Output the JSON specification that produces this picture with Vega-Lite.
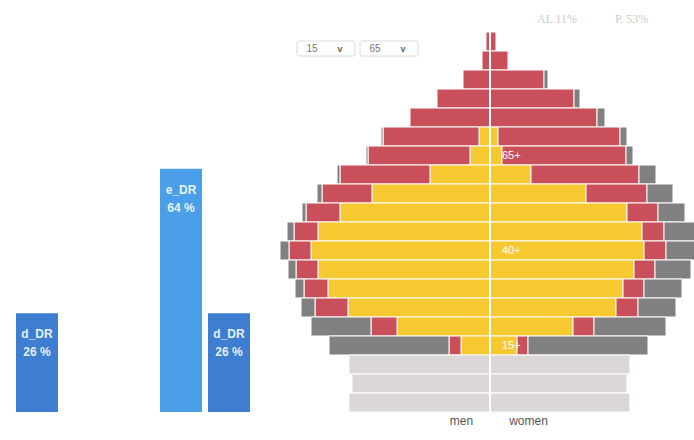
{
  "$schema": "https://vega.github.io/schema/vega-lite/v6.json",
  "padding": {"left": 0, "top": 12, "right": 0, "bottom": 0},
  "spacing": 14,
  "resolve": {"scale": {"color": "independent"}},
  "config": {"view": {"stroke": null}, "font": "Liberation Sans"},
  "datasets": {
    "ratios": [
      {"slot": 1, "name": "d_DR", "value": 26, "label": "26 %"},
      {"slot": 4, "name": "e_DR", "value": 64, "label": "64 %"},
      {"slot": 5, "name": "d_DR", "value": 26, "label": "26 %"}
    ],
    "pyramid": [
      {"age": "95+", "sex": "men", "group": "pensioners", "value": -4},
      {"age": "95+", "sex": "women", "group": "pensioners", "value": 6},
      {"age": "90-94", "sex": "men", "group": "pensioners", "value": -8},
      {"age": "90-94", "sex": "women", "group": "pensioners", "value": 18},
      {"age": "85-89", "sex": "men", "group": "pensioners", "value": -27},
      {"age": "85-89", "sex": "women", "group": "pensioners", "value": 54},
      {"age": "85-89", "sex": "women", "group": "unemployed", "value": 4},
      {"age": "80-84", "sex": "men", "group": "pensioners", "value": -53},
      {"age": "80-84", "sex": "women", "group": "pensioners", "value": 84},
      {"age": "80-84", "sex": "women", "group": "unemployed", "value": 6},
      {"age": "75-79", "sex": "men", "group": "pensioners", "value": -80},
      {"age": "75-79", "sex": "women", "group": "pensioners", "value": 107},
      {"age": "75-79", "sex": "women", "group": "unemployed", "value": 8},
      {"age": "70-74", "sex": "men", "group": "employed", "value": -11},
      {"age": "70-74", "sex": "men", "group": "pensioners", "value": -96},
      {"age": "70-74", "sex": "men", "group": "unemployed", "value": -2},
      {"age": "70-74", "sex": "women", "group": "employed", "value": 8},
      {"age": "70-74", "sex": "women", "group": "pensioners", "value": 122},
      {"age": "70-74", "sex": "women", "group": "unemployed", "value": 7},
      {"age": "65-69", "sex": "men", "group": "employed", "value": -20},
      {"age": "65-69", "sex": "men", "group": "pensioners", "value": -102},
      {"age": "65-69", "sex": "men", "group": "unemployed", "value": -2},
      {"age": "65-69", "sex": "women", "group": "employed", "value": 12},
      {"age": "65-69", "sex": "women", "group": "pensioners", "value": 124},
      {"age": "65-69", "sex": "women", "group": "unemployed", "value": 7},
      {"age": "60-64", "sex": "men", "group": "employed", "value": -60},
      {"age": "60-64", "sex": "men", "group": "pensioners", "value": -90},
      {"age": "60-64", "sex": "men", "group": "unemployed", "value": -3},
      {"age": "60-64", "sex": "women", "group": "employed", "value": 41},
      {"age": "60-64", "sex": "women", "group": "pensioners", "value": 108},
      {"age": "60-64", "sex": "women", "group": "unemployed", "value": 17},
      {"age": "55-59", "sex": "men", "group": "employed", "value": -118},
      {"age": "55-59", "sex": "men", "group": "pensioners", "value": -50},
      {"age": "55-59", "sex": "men", "group": "unemployed", "value": -5},
      {"age": "55-59", "sex": "women", "group": "employed", "value": 96},
      {"age": "55-59", "sex": "women", "group": "pensioners", "value": 61},
      {"age": "55-59", "sex": "women", "group": "unemployed", "value": 26},
      {"age": "50-54", "sex": "men", "group": "employed", "value": -150},
      {"age": "50-54", "sex": "men", "group": "pensioners", "value": -34},
      {"age": "50-54", "sex": "men", "group": "unemployed", "value": -4},
      {"age": "50-54", "sex": "women", "group": "employed", "value": 137},
      {"age": "50-54", "sex": "women", "group": "pensioners", "value": 31},
      {"age": "50-54", "sex": "women", "group": "unemployed", "value": 27},
      {"age": "45-49", "sex": "men", "group": "employed", "value": -172},
      {"age": "45-49", "sex": "men", "group": "pensioners", "value": -24},
      {"age": "45-49", "sex": "men", "group": "unemployed", "value": -7},
      {"age": "45-49", "sex": "women", "group": "employed", "value": 152},
      {"age": "45-49", "sex": "women", "group": "pensioners", "value": 22},
      {"age": "45-49", "sex": "women", "group": "unemployed", "value": 31},
      {"age": "40-44", "sex": "men", "group": "employed", "value": -179},
      {"age": "40-44", "sex": "men", "group": "pensioners", "value": -22},
      {"age": "40-44", "sex": "men", "group": "unemployed", "value": -9},
      {"age": "40-44", "sex": "women", "group": "employed", "value": 154},
      {"age": "40-44", "sex": "women", "group": "pensioners", "value": 22},
      {"age": "40-44", "sex": "women", "group": "unemployed", "value": 33},
      {"age": "35-39", "sex": "men", "group": "employed", "value": -172},
      {"age": "35-39", "sex": "men", "group": "pensioners", "value": -22},
      {"age": "35-39", "sex": "men", "group": "unemployed", "value": -8},
      {"age": "35-39", "sex": "women", "group": "employed", "value": 144},
      {"age": "35-39", "sex": "women", "group": "pensioners", "value": 21},
      {"age": "35-39", "sex": "women", "group": "unemployed", "value": 36},
      {"age": "30-34", "sex": "men", "group": "employed", "value": -162},
      {"age": "30-34", "sex": "men", "group": "pensioners", "value": -24},
      {"age": "30-34", "sex": "men", "group": "unemployed", "value": -9},
      {"age": "30-34", "sex": "women", "group": "employed", "value": 133},
      {"age": "30-34", "sex": "women", "group": "pensioners", "value": 21},
      {"age": "30-34", "sex": "women", "group": "unemployed", "value": 38},
      {"age": "25-29", "sex": "men", "group": "employed", "value": -142},
      {"age": "25-29", "sex": "men", "group": "pensioners", "value": -33},
      {"age": "25-29", "sex": "men", "group": "unemployed", "value": -14},
      {"age": "25-29", "sex": "women", "group": "employed", "value": 126},
      {"age": "25-29", "sex": "women", "group": "pensioners", "value": 22},
      {"age": "25-29", "sex": "women", "group": "unemployed", "value": 38},
      {"age": "20-24", "sex": "men", "group": "employed", "value": -93},
      {"age": "20-24", "sex": "men", "group": "pensioners", "value": -26},
      {"age": "20-24", "sex": "men", "group": "unemployed", "value": -60},
      {"age": "20-24", "sex": "women", "group": "employed", "value": 83},
      {"age": "20-24", "sex": "women", "group": "pensioners", "value": 21},
      {"age": "20-24", "sex": "women", "group": "unemployed", "value": 72},
      {"age": "15-19", "sex": "men", "group": "employed", "value": -29},
      {"age": "15-19", "sex": "men", "group": "pensioners", "value": -12},
      {"age": "15-19", "sex": "men", "group": "unemployed", "value": -120},
      {"age": "15-19", "sex": "women", "group": "employed", "value": 27},
      {"age": "15-19", "sex": "women", "group": "pensioners", "value": 11},
      {"age": "15-19", "sex": "women", "group": "unemployed", "value": 120},
      {"age": "10-14", "sex": "men", "group": "children", "value": -141},
      {"age": "10-14", "sex": "women", "group": "children", "value": 140},
      {"age": "5-9", "sex": "men", "group": "children", "value": -138},
      {"age": "5-9", "sex": "women", "group": "children", "value": 137},
      {"age": "0-4", "sex": "men", "group": "children", "value": -141},
      {"age": "0-4", "sex": "women", "group": "children", "value": 140}
    ],
    "marks": [
      {"age": "65-69", "label": "65+"},
      {"age": "40-44", "label": "40+"},
      {"age": "15-19", "label": "15+"}
    ]
  },
  "hconcat": [
    {
      "width": 266,
      "height": 380,
      "data": {"name": "ratios"},
      "encoding": {
        "x": {"field": "slot", "type": "ordinal", "axis": null,
              "scale": {"domain": [1, 2, 3, 4, 5], "paddingInner": 0.125, "paddingOuter": 0.333}},
        "y": {"field": "value", "type": "quantitative", "axis": null,
              "scale": {"domain": [0, 100], "nice": false}}
      },
      "layer": [
        {
          "mark": {"type": "bar"},
          "encoding": {
            "color": {"field": "name", "type": "nominal", "legend": null,
                      "scale": {"domain": ["d_DR", "e_DR"], "range": ["#3d7ed0", "#4b9ee8"]}}
          }
        },
        {
          "mark": {"type": "text", "color": "#ffffff", "fontSize": 12, "fontWeight": "bold", "baseline": "middle", "dy": 21, "opacity": 0.88},
          "encoding": {"text": {"field": "name"}}
        },
        {
          "mark": {"type": "text", "color": "#ffffff", "fontSize": 12, "fontWeight": "bold", "baseline": "middle", "dy": 39, "opacity": 0.88},
          "encoding": {"text": {"field": "label"}}
        }
      ]
    },
    {
      "width": 414,
      "height": 380,
      "encoding": {
        "y": {"field": "age", "type": "ordinal", "axis": null,
              "scale": {"domain": ["95+", "90-94", "85-89", "80-84", "75-79", "70-74", "65-69", "60-64", "55-59", "50-54", "45-49", "40-44", "35-39", "30-34", "25-29", "20-24", "15-19", "10-14", "5-9", "0-4"],
                        "paddingInner": 0, "paddingOuter": 0}}
      },
      "layer": [
        {
          "data": {"name": "pyramid"},
          "mark": {"type": "bar", "stroke": "#ffffff", "strokeWidth": 1, "clip": true},
          "encoding": {
            "x": {"field": "value", "type": "quantitative", "stack": "zero",
                  "scale": {"domain": [-210, 204], "nice": false, "zero": false},
                  "axis": {"values": [-29, 38], "labelExpr": "datum.value < 0 ? 'men' : 'women'",
                           "domain": false, "ticks": false, "grid": false, "title": null,
                           "labelFont": "Liberation Sans", "labelFontSize": 12, "labelColor": "#555555", "labelPadding": 3}},
            "color": {"field": "group", "type": "nominal", "legend": null,
                      "scale": {"domain": ["children", "employed", "pensioners", "unemployed"],
                                "range": ["#dcd7d7", "#f6c931", "#c9505b", "#808080"]}},
            "order": {"field": "group", "type": "ordinal", "sort": "ascending"}
          }
        },
        {
          "data": {"values": [{}]},
          "mark": {"type": "rule", "color": "#ffffff", "strokeWidth": 2},
          "encoding": {"x": {"datum": 0}, "y": null}
        },
        {
          "data": {"name": "marks"},
          "mark": {"type": "text", "color": "#ffffff", "fontSize": 11, "align": "left", "baseline": "middle", "dx": 12},
          "encoding": {"x": {"datum": 0}, "text": {"field": "label"}}
        },
        {
          "data": {"values": [{"sel": "15"}]},
          "mark": {"type": "bar", "fill": null, "fillOpacity": 0, "stroke": "#dadada", "strokeWidth": 1, "height": 15, "yOffset": 7, "cornerRadius": 2},
          "encoding": {"x": {"datum": -193}, "x2": {"datum": -135}, "y": {"datum": "95+"}}
        },
        {
          "data": {"values": [{"sel": "65"}]},
          "mark": {"type": "bar", "fill": null, "fillOpacity": 0, "stroke": "#dadada", "strokeWidth": 1, "height": 15, "yOffset": 7, "cornerRadius": 2},
          "encoding": {"x": {"datum": -130}, "x2": {"datum": -72}, "y": {"datum": "95+"}}
        },
        {
          "data": {"values": [{"sel": "15"}]},
          "mark": {"type": "text", "fontSize": 10, "color": "#777777", "baseline": "middle", "dy": 7},
          "encoding": {"x": {"datum": -178}, "y": {"datum": "95+"}, "text": {"field": "sel"}}
        },
        {
          "data": {"values": [{"sel": "65"}]},
          "mark": {"type": "text", "fontSize": 10, "color": "#777777", "baseline": "middle", "dy": 7},
          "encoding": {"x": {"datum": -115}, "y": {"datum": "95+"}, "text": {"field": "sel"}}
        },
        {
          "data": {"values": [{"c": "v"}]},
          "mark": {"type": "text", "fontSize": 9, "fontWeight": "bold", "color": "#666666", "baseline": "middle", "dy": 7},
          "encoding": {"x": {"datum": -150}, "y": {"datum": "95+"}, "text": {"field": "c"}}
        },
        {
          "data": {"values": [{"c": "v"}]},
          "mark": {"type": "text", "fontSize": 9, "fontWeight": "bold", "color": "#666666", "baseline": "middle", "dy": 7},
          "encoding": {"x": {"datum": -87}, "y": {"datum": "95+"}, "text": {"field": "c"}}
        },
        {
          "data": {"values": [{"t": "AL 11%"}]},
          "mark": {"type": "text", "font": "Liberation Serif", "fontSize": 12, "color": "#cccccc", "align": "left", "baseline": "middle", "dy": -23},
          "encoding": {"x": {"datum": 47}, "y": {"datum": "95+"}, "text": {"field": "t"}}
        },
        {
          "data": {"values": [{"t": "P. 53%"}]},
          "mark": {"type": "text", "font": "Liberation Serif", "fontSize": 12, "color": "#cccccc", "align": "left", "baseline": "middle", "dy": -23},
          "encoding": {"x": {"datum": 125}, "y": {"datum": "95+"}, "text": {"field": "t"}}
        }
      ]
    }
  ]
}
